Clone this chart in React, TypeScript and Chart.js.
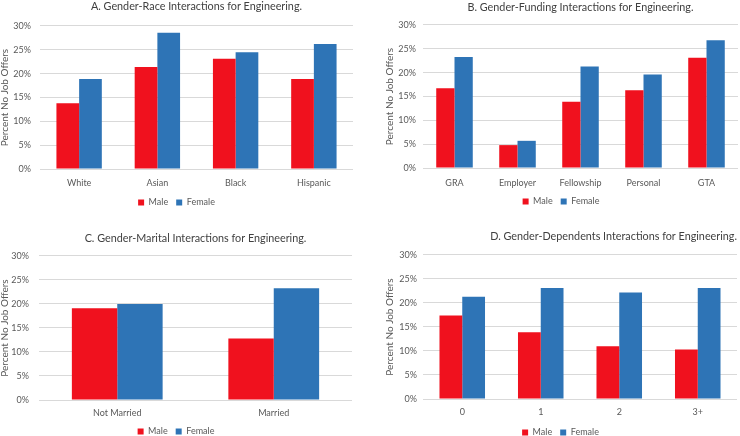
import React, { useEffect, useRef } from "react";
import { Chart, registerables } from "chart.js";

Chart.register(...registerables);

const raceCategories = ["White", "Asian", "Black", "Hispanic"];
const raceMale = [13.8, 21.4, 23.1, 18.9];
const raceFemale = [18.9, 28.6, 24.5, 26.2];

const fundingCategories = ["GRA", "Employer", "Fellowship", "Personal", "GTA"];
const fundingMale = [16.7, 4.8, 13.9, 16.3, 23.1];
const fundingFemale = [23.3, 5.7, 21.3, 19.6, 26.8];

const maritalCategories = ["Not Married", "Married"];
const maritalMale = [19.1, 12.8];
const maritalFemale = [20.0, 23.3];

const dependentsCategories = ["0", "1", "2", "3+"];
const dependentsMale = [17.4, 13.9, 11.0, 10.3];
const dependentsFemale = [21.3, 23.1, 22.2, 23.1];

const yTicks = [0, 5, 10, 15, 20, 25, 30];
const seriesNames = ["Male", "Female"];
const yAxisTitle = "Percent No Job Offers";

const titles = [
  "A. Gender-Race Interactions for Engineering.",
  "B. Gender-Funding Interactions for Engineering.",
  "C. Gender-Marital Interactions for Engineering.",
  "D. Gender-Dependents Interactions for Engineering.",
];

const MALE_COLOR = "#F0111E";
const FEMALE_COLOR = "#2E74B6";
const FONT = "Lato, 'Open Sans', sans-serif";

type Geo = {
  left: number;
  top: number;
  width: number;
  height: number;
  padRight: number;
  padBottom: number;
  titleTop: number;
  titleBottom: number;
  titleAlign: "center" | "end";
  yWidth: number;
  yTickPad: number;
  yTitlePadTop: number;
  xHeight: number;
  xTickPad: number;
  legendPad: number;
};

type PanelProps = {
  title: string;
  categories: string[];
  male: number[];
  female: number[];
  geo: Geo;
};

function Panel({ title, categories, male, female, geo }: PanelProps) {
  const ref = useRef<HTMLCanvasElement | null>(null);
  useEffect(() => {
    if (!ref.current) return;
    const chart = new Chart(ref.current, {
      type: "bar",
      data: {
        labels: categories,
        datasets: [
          { label: seriesNames[0], data: male, backgroundColor: MALE_COLOR },
          { label: seriesNames[1], data: female, backgroundColor: FEMALE_COLOR },
        ],
      },
      options: {
        responsive: false,
        animation: false,
        devicePixelRatio: 1,
        datasets: {
          bar: { categoryPercentage: 0.58, barPercentage: 1.0 },
        },
        layout: {
          padding: { left: 0, right: geo.padRight, top: 0, bottom: geo.padBottom },
        },
        plugins: {
          tooltip: { enabled: false },
          title: {
            display: true,
            text: title,
            fullSize: false,
            align: geo.titleAlign,
            color: "#404040",
            font: { family: FONT, size: 10.8, weight: "normal" },
            padding: { top: geo.titleTop, bottom: geo.titleBottom },
          },
          legend: {
            position: "bottom",
            labels: {
              boxWidth: 6,
              boxHeight: 6,
              padding: geo.legendPad,
              color: "#595959",
              font: { family: FONT, size: 9 },
            },
          },
        },
        scales: {
          x: {
            grid: { display: false, drawTicks: false },
            border: { display: false },
            ticks: {
              color: "#595959",
              font: { family: FONT, size: 9 },
              padding: geo.xTickPad,
            },
            afterFit: (s: any) => {
              s.height = geo.xHeight;
            },
          },
          y: {
            min: yTicks[0],
            max: yTicks[yTicks.length - 1],
            afterBuildTicks: (s: any) => {
              s.ticks = yTicks.map((v) => ({ value: v }));
            },
            grid: { color: "#D9D9D9", lineWidth: 1, drawTicks: false },
            border: { display: false },
            ticks: {
              color: "#595959",
              font: { family: FONT, size: 9 },
              padding: geo.yTickPad,
              callback: (v: any) => `${v}%`,
            },
            title: {
              display: true,
              text: yAxisTitle,
              color: "#595959",
              font: { family: FONT, size: 10 },
              padding: { top: geo.yTitlePadTop, bottom: 0 },
            },
            afterFit: (s: any) => {
              s.width = geo.yWidth;
            },
          },
        },
      },
    });
    return () => chart.destroy();
  }, []);
  return (
    <canvas
      ref={ref}
      width={geo.width}
      height={geo.height}
      style={{
        position: "absolute",
        left: geo.left,
        top: geo.top,
        width: geo.width,
        height: geo.height,
        display: "block",
      }}
    />
  );
}

const geoA: Geo = {
  left: 0, top: 0, width: 354, height: 218, padRight: 1, padBottom: 1,
  titleTop: 0.5, titleBottom: 12.5, titleAlign: "center",
  yWidth: 40, yTickPad: 9, yTitlePadTop: -1,
  xHeight: 21, xTickPad: 8.6, legendPad: 8,
};
const geoB: Geo = {
  left: 384, top: 0, width: 356, height: 218, padRight: 2, padBottom: 2,
  titleTop: 1.5, titleBottom: 10.5, titleAlign: "center",
  yWidth: 39, yTickPad: 7, yTitlePadTop: 0,
  xHeight: 21, xTickPad: 9.5, legendPad: 8,
};
const geoC: Geo = {
  left: 0, top: 218, width: 352, height: 218, padRight: 0, padBottom: -10,
  titleTop: 14.5, titleBottom: 10.5, titleAlign: "center",
  yWidth: 39, yTickPad: 10, yTitlePadTop: -1,
  xHeight: 19, xTickPad: 7.6, legendPad: 8,
};
const geoD: Geo = {
  left: 384, top: 218, width: 353, height: 218, padRight: 0, padBottom: -11,
  titleTop: 12.5, titleBottom: 11.5, titleAlign: "end",
  yWidth: 39, yTickPad: 6, yTitlePadTop: 0,
  xHeight: 21, xTickPad: 7.6, legendPad: 8,
};

export default function App() {
  return (
    <div
      style={{
        position: "fixed",
        left: 0,
        top: 0,
        width: 740,
        height: 436,
        overflow: "hidden",
        background: "#ffffff",
      }}
    >
      <Panel title={titles[0]} categories={raceCategories} male={raceMale} female={raceFemale} geo={geoA} />
      <Panel title={titles[1]} categories={fundingCategories} male={fundingMale} female={fundingFemale} geo={geoB} />
      <Panel title={titles[2]} categories={maritalCategories} male={maritalMale} female={maritalFemale} geo={geoC} />
      <Panel title={titles[3]} categories={dependentsCategories} male={dependentsMale} female={dependentsFemale} geo={geoD} />
    </div>
  );
}
